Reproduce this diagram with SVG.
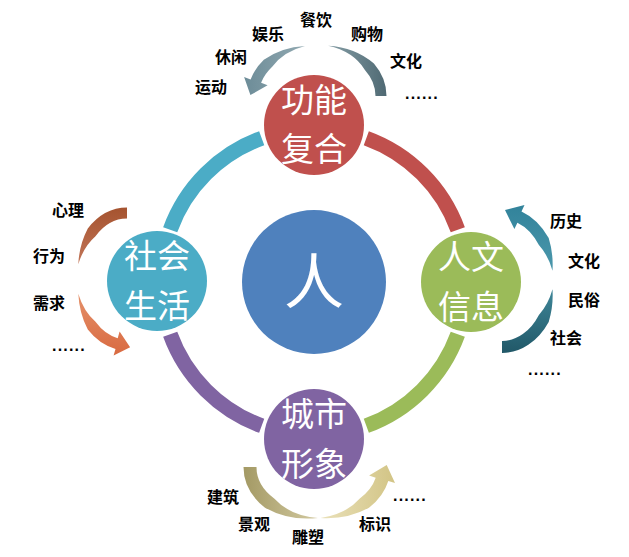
<svg xmlns="http://www.w3.org/2000/svg" width="629" height="557" viewBox="0 0 629 557">
<defs>
<style>
.ring{fill:none;stroke-width:15}
.node-text{font-family:"Noto Sans CJK SC","Noto Sans",sans-serif;font-size:33px;fill:#fff;text-anchor:middle}
.lbl{font-family:"Noto Sans CJK SC","Noto Sans",sans-serif;font-size:16px;font-weight:700;fill:#000;text-anchor:middle}
.dots{font-family:"Liberation Sans",Arial,sans-serif;font-size:16px;font-weight:700;fill:#000;letter-spacing:1.2px}
</style>
<linearGradient id="gTop" gradientUnits="userSpaceOnUse" x1="240" y1="0" x2="390" y2="0">
<stop offset="0" stop-color="#6A8A96"/><stop offset="0.45" stop-color="#93AAB2"/><stop offset="0.55" stop-color="#8AA2AA"/><stop offset="1" stop-color="#4C6670"/>
</linearGradient>
<linearGradient id="gLeftUp" gradientUnits="userSpaceOnUse" x1="0" y1="207" x2="0" y2="266">
<stop offset="0" stop-color="#A5532F"/><stop offset="1" stop-color="#C27558"/>
</linearGradient>
<linearGradient id="gLeftDn" gradientUnits="userSpaceOnUse" x1="0" y1="290" x2="0" y2="358">
<stop offset="0" stop-color="#E5936C"/><stop offset="1" stop-color="#D8683F"/>
</linearGradient>
<linearGradient id="gRightUp" gradientUnits="userSpaceOnUse" x1="0" y1="203" x2="0" y2="272">
<stop offset="0" stop-color="#31829A"/><stop offset="1" stop-color="#4C98AC"/>
</linearGradient>
<linearGradient id="gRightDn" gradientUnits="userSpaceOnUse" x1="0" y1="288" x2="0" y2="353">
<stop offset="0" stop-color="#3F8799"/><stop offset="1" stop-color="#215868"/>
</linearGradient>
<linearGradient id="gBotL" gradientUnits="userSpaceOnUse" x1="243" y1="0" x2="318" y2="0">
<stop offset="0" stop-color="#A39964"/><stop offset="1" stop-color="#D2C9A0"/>
</linearGradient>
<linearGradient id="gBotR" gradientUnits="userSpaceOnUse" x1="320" y1="0" x2="395" y2="0">
<stop offset="0" stop-color="#EAE1BA"/><stop offset="1" stop-color="#D2C485"/>
</linearGradient>
</defs>
<rect width="629" height="557" fill="#fff"/>

<g id="connectors">
<path class="ring" stroke="#C0504D" d="M 366.3 138.2 A 153 153 0 0 1 457.8 229.7"/>
<path class="ring" stroke="#9BBB59" d="M 457.8 334.3 A 153 153 0 0 1 366.3 425.8"/>
<path class="ring" stroke="#8064A2" d="M 261.7 425.8 A 153 153 0 0 1 170.2 334.3"/>
<path class="ring" stroke="#4BACC6" d="M 170.2 229.7 A 153 153 0 0 1 261.7 138.2"/>
</g>

<g id="node-center">
<circle cx="314" cy="282" r="72" fill="#4F81BD"/>
<text x="314" y="304" style="font-family:'Noto Sans CJK SC','Noto Sans',sans-serif;font-size:60px;fill:#fff;text-anchor:middle">人</text>
</g>

<g id="node-top">
<circle cx="314" cy="125" r="50" fill="#C0504D"/>
<text class="node-text" x="314" y="112">功能</text>
<text class="node-text" x="314" y="161">复合</text>
</g>

<g id="node-right">
<circle cx="471" cy="282" r="50" fill="#9BBB59"/>
<text class="node-text" x="471" y="269">人文</text>
<text class="node-text" x="471" y="319">信息</text>
</g>

<g id="node-bottom">
<circle cx="314" cy="439" r="50" fill="#8064A2"/>
<text class="node-text" x="314" y="426">城市</text>
<text class="node-text" x="314" y="476">形象</text>
</g>

<g id="node-left">
<circle cx="157" cy="281" r="50" fill="#4BACC6"/>
<text class="node-text" x="157" y="268">社会</text>
<text class="node-text" x="157" y="318">生活</text>
</g>

<g id="arrow-top">
<path fill="url(#gTop)" d="M 328 45.8 A 69.5 56.5 0 0 1 373.9 63.6 A 69.5 56.5 0 0 1 386.5 96 L 375.5 96 A 58.5 45.5 0 0 0 364.9 69.9 A 58.5 45.5 0 0 0 328 45.8 Z"/>
<path fill="url(#gTop)" d="M 305 45.9 A 69.5 56.5 0 0 0 263.8 59.7 A 69.5 56.5 0 0 0 250.6 79.5 L 244.1 77 L 250.4 95.1 L 267.6 85.2 L 261.1 82.7 A 58.5 45.5 0 0 1 272.2 66.7 A 58.5 45.5 0 0 1 305 45.9 Z"/>
<text class="lbl" x="316" y="26">餐饮</text>
<text class="lbl" x="268" y="40">娱乐</text>
<text class="lbl" x="367" y="40">购物</text>
<text class="lbl" x="231" y="63">休闲</text>
<text class="lbl" x="406" y="67">文化</text>
<text class="lbl" x="211" y="93">运动</text>
<text class="dots" x="405" y="99">......</text>
</g>

<g id="arrow-left">
<path fill="url(#gLeftUp)" d="M 127 207.5 A 55.5 71.5 0 0 0 87.8 228.4 A 55.5 71.5 0 0 0 78.3 264.2 A 44.5 60.5 0 0 1 95.5 236.2 A 44.5 60.5 0 0 1 127 218.5 Z"/>
<path fill="url(#gLeftDn)" d="M 78.3 293.8 A 44.5 60.5 0 0 0 95.5 321.8 A 44.5 60.5 0 0 0 117.7 338.2 L 119.6 331.5 L 130.1 347.3 L 113.6 355.6 L 115.5 348.9 A 55.5 71.5 0 0 1 87.8 329.6 A 55.5 71.5 0 0 1 78.3 293.8 Z"/>
<text class="lbl" x="68" y="216">心理</text>
<text class="lbl" x="49" y="262">行为</text>
<text class="lbl" x="49" y="309">需求</text>
<text class="dots" x="52" y="351">......</text>
</g>

<g id="arrow-right">
<path fill="url(#gRightUp)" d="M 552.5 270.7 A 57 73 0 0 0 548.7 238.1 A 57 73 0 0 0 521.5 211.4 L 524.5 205.1 L 505 210.1 L 514.4 229 L 517.4 222.7 A 45 61 0 0 1 538.9 245 A 45 61 0 0 1 552.5 270.7 Z"/>
<path fill="url(#gRightDn)" d="M 552.5 289.3 A 57 73 0 0 1 548.7 321.9 A 57 73 0 0 1 502 353 L 502 341 A 45 61 0 0 0 538.9 315 A 45 61 0 0 0 552.5 289.3 Z"/>
<text class="lbl" x="566" y="227">历史</text>
<text class="lbl" x="584" y="267">文化</text>
<text class="lbl" x="584" y="306">民俗</text>
<text class="lbl" x="566" y="344">社会</text>
<text class="dots" x="528" y="375">......</text>
</g>

<g id="arrow-bottom">
<path fill="url(#gBotL)" d="M 243.5 467 A 73.5 57.5 0 0 0 265 507.7 A 73.5 57.5 0 0 0 318 518 A 60.5 44.5 0 0 1 274.2 498.5 A 60.5 44.5 0 0 1 256.5 467 Z"/>
<path fill="url(#gBotR)" d="M 320.5 518 A 60.5 44.5 0 0 0 359.8 498.5 A 60.5 44.5 0 0 0 375.7 477.8 L 369.1 475.6 L 386.7 465.1 L 395 483.1 L 388.3 480.9 A 73.5 57.5 0 0 1 369 507.7 A 73.5 57.5 0 0 1 320.5 518 Z"/>
<text class="lbl" x="223" y="503">建筑</text>
<text class="lbl" x="254" y="530">景观</text>
<text class="lbl" x="308" y="543">雕塑</text>
<text class="lbl" x="375" y="530">标识</text>
<text class="dots" x="393" y="501">......</text>
</g>
</svg>
